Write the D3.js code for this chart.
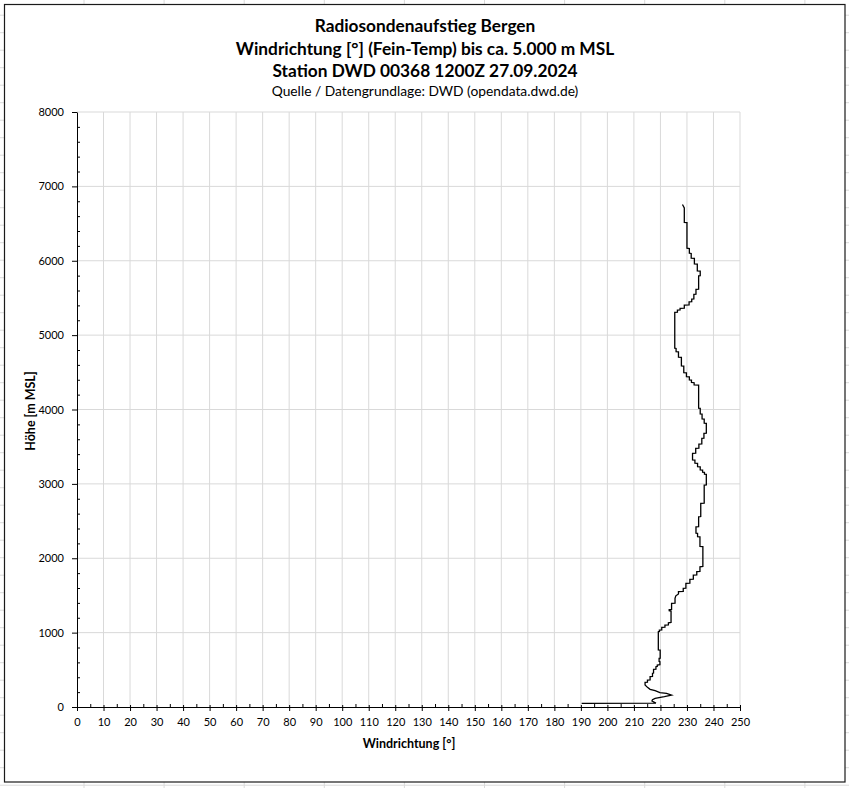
<!DOCTYPE html>
<html>
<head>
<meta charset="utf-8">
<script src="https://cdn.jsdelivr.net/npm/d3@7/dist/d3.min.js"></script>
<style>
  html, body { margin: 0; padding: 0; background: #fff; }
  svg { display: block; }
  text { font-family: Lato, "Open Sans", sans-serif; fill: #000; }
</style>
</head>
<body>
<svg id="chart" width="849" height="788"></svg>
<script>
// ---------- Daten ----------
const titelZeilen = [
  "Radiosondenaufstieg Bergen",
  "Windrichtung [°] (Fein-Temp) bis ca. 5.000 m MSL",
  "Station DWD 00368 1200Z 27.09.2024"
];
const quelle = "Quelle / Datengrundlage: DWD (opendata.dwd.de)";
const xTicks = d3.range(0, 251, 10);
const yTicks = d3.range(0, 8001, 1000);
const xTitel = "Windrichtung [°]";
const yTitel = "Höhe [m MSL]";

// Höhe [m] und Windrichtung [°]
const hoehe = [50,52,81,99,117,139,161,184,193,220,237,264,296,332,335,363,366,408,411,453,456,506,509,542,545,565,568,609,612,654,657,766,769,1012,1015,1035,1038,1071,1074,1102,1105,1133,1136,1290,1295,1310,1313,1394,1397,1461,1495,1519,1550,1553,1595,1598,1662,1665,1716,1719,1774,1777,1819,1822,1886,1889,2155,2158,2289,2292,2334,2337,2423,2426,2558,2561,2738,2741,2984,2987,3127,3130,3154,3157,3185,3188,3230,3233,3275,3278,3320,3323,3410,3413,3477,3480,3535,3538,3611,3614,3678,3681,3813,3816,3871,3874,3938,3941,4015,4018,4328,4331,4360,4363,4395,4398,4440,4443,4494,4497,4583,4586,4700,4703,4776,4779,4821,4824,5305,5308,5336,5339,5359,5362,5403,5406,5448,5451,5484,5487,5547,5550,5614,5617,5797,5800,5860,5863,5954,5957,6031,6034,6098,6101,6165,6168,6514,6517,6711,6757];
const richtung = [190.3,218.3,216.8,217.0,218.0,221.5,224.2,222.3,219.8,218.0,216.1,215.1,214.2,214.2,215.1,215.1,216.1,216.1,217.0,217.0,217.4,217.4,218.3,218.3,218.8,218.8,219.8,219.8,219.5,219.5,219.9,219.9,219.2,219.2,219.6,219.6,220.5,220.5,221.7,221.7,223.0,223.0,224.0,224.0,223.3,223.3,224.2,224.2,225.5,225.5,225.8,226.8,226.8,228.6,228.6,229.6,229.6,231.1,231.1,232.4,232.4,233.7,233.7,234.9,234.9,236.0,236.0,234.9,234.9,234.0,234.0,233.4,233.4,234.4,234.4,235.2,235.2,236.5,236.5,237.3,237.3,236.6,236.6,235.9,235.9,235.0,235.0,234.0,234.0,233.0,233.0,232.1,232.1,233.3,233.3,234.5,234.5,235.6,235.6,236.4,236.4,237.3,237.3,236.5,236.5,235.7,235.7,235.0,235.0,234.4,234.4,232.7,232.7,231.7,231.7,230.9,230.9,229.8,229.8,228.8,228.8,227.9,227.9,226.8,226.8,225.9,225.9,225.4,225.4,226.4,226.4,227.4,227.4,229.0,229.0,230.8,230.8,231.8,231.8,232.6,232.6,233.4,233.4,234.4,234.4,235.0,235.0,233.9,233.9,232.8,232.8,231.6,231.6,230.9,230.9,230.0,230.0,229.0,229.0,228.3];

// ---------- Zeichnen ----------
const svg = d3.select("#chart");
const W = 849, H = 788;

// Tabellenblatt-Hintergrund (Zellgitter)
const bg = svg.append("g");
const colX = d3.range(84, W, 80.1);
const rowY = d3.range(15.2, H, 17.5);
bg.selectAll("line.c").data(colX).join("line")
  .attr("x1", d => d).attr("x2", d => d).attr("y1", 0).attr("y2", H)
  .attr("stroke", "#dadada").attr("stroke-width", 1);
bg.selectAll("line.r").data(rowY).join("line")
  .attr("x1", 0).attr("x2", W).attr("y1", d => d).attr("y2", d => d)
  .attr("stroke", "#dadada").attr("stroke-width", 1);

// Diagrammrahmen
svg.append("rect").attr("x", 4.5).attr("y", 4.5).attr("width", 840.5).attr("height", 777.5)
  .attr("fill", "#fff").attr("stroke", "#1a1a1a").attr("stroke-width", 1.2);

const plot = {left: 77, right: 740, top: 112, bottom: 707};
const x = d3.scaleLinear().domain([0, 250]).range([plot.left, plot.right]);
const y = d3.scaleLinear().domain([0, 8000]).range([plot.bottom, plot.top]);

// Titel
const titleY = [32, 55, 77];
titelZeilen.forEach((t, i) => {
  svg.append("text").attr("x", 425).attr("y", titleY[i])
    .attr("text-anchor", "middle").attr("font-weight", "bold").attr("font-size", 17.3)
    .text(t);
});
svg.append("text").attr("x", 425).attr("y", 96)
  .attr("text-anchor", "middle").attr("font-size", 13.8).text(quelle);

// Gitternetz
const grid = svg.append("g");
grid.selectAll("line.v").data(xTicks.filter(d => d > 0)).join("line")
  .attr("x1", d => x(d)).attr("x2", d => x(d)).attr("y1", plot.top).attr("y2", plot.bottom)
  .attr("stroke", "#d9d9d9").attr("stroke-width", 1);
grid.selectAll("line.h").data(yTicks.filter(d => d > 0)).join("line")
  .attr("x1", plot.left).attr("x2", plot.right).attr("y1", d => y(d)).attr("y2", d => y(d))
  .attr("stroke", "#d9d9d9").attr("stroke-width", 1);

// Achsen
const xAxisG = svg.append("g").attr("transform", `translate(0,${plot.bottom})`);
xAxisG.call(d3.axisBottom(x).tickValues(d3.range(5, 250, 10)).tickSize(0).tickSizeInner(-3).tickFormat(""))
  .call(g => g.select(".domain").remove());
xAxisG.append("g").call(d3.axisBottom(x).tickValues(xTicks).tickSizeInner(4).tickSizeOuter(0).tickPadding(7).tickFormat(d3.format("d")))
  .call(g => {
    g.select(".domain").attr("stroke", "#000");
    g.selectAll(".tick line").attr("y1", -2);
    g.selectAll(".tick text").attr("font-size", 11).attr("font-family", "Lato, sans-serif").attr("fill", "#000");
  });
xAxisG.selectAll("line").attr("stroke", "#000");

const yAxisG = svg.append("g").attr("transform", `translate(${plot.left},0)`);
yAxisG.call(d3.axisLeft(y).tickValues(d3.range(200, 8000, 200).filter(d => d % 1000 !== 0)).tickSizeInner(-3).tickSizeOuter(0).tickFormat(""))
  .call(g => g.select(".domain").remove());
yAxisG.append("g").call(d3.axisLeft(y).tickValues(yTicks).tickSizeInner(5).tickSizeOuter(0).tickPadding(8).tickFormat(d3.format("d")))
  .call(g => {
    g.select(".domain").attr("stroke", "#000");
    g.selectAll(".tick text").attr("font-size", 11).attr("font-family", "Lato, sans-serif").attr("fill", "#000");
  });
yAxisG.selectAll("line").attr("stroke", "#000");

// Achsentitel
svg.append("text").attr("x", 409).attr("y", 748)
  .attr("text-anchor", "middle").attr("font-weight", "bold").attr("font-size", 12.5).text(xTitel);
svg.append("text").attr("transform", `translate(35,411) rotate(-90)`)
  .attr("text-anchor", "middle").attr("font-weight", "bold").attr("font-size", 12.5).text(yTitel);

// Profil
const punkte = hoehe.map((h, i) => ({h, r: richtung[i]}));
svg.append("path").datum(punkte)
  .attr("fill", "none").attr("stroke", "#000").attr("stroke-width", 1.3)
  .attr("stroke-linejoin", "miter")
  .attr("d", d3.line().x(d => x(d.r)).y(d => y(d.h)));
</script>
</body>
</html>
